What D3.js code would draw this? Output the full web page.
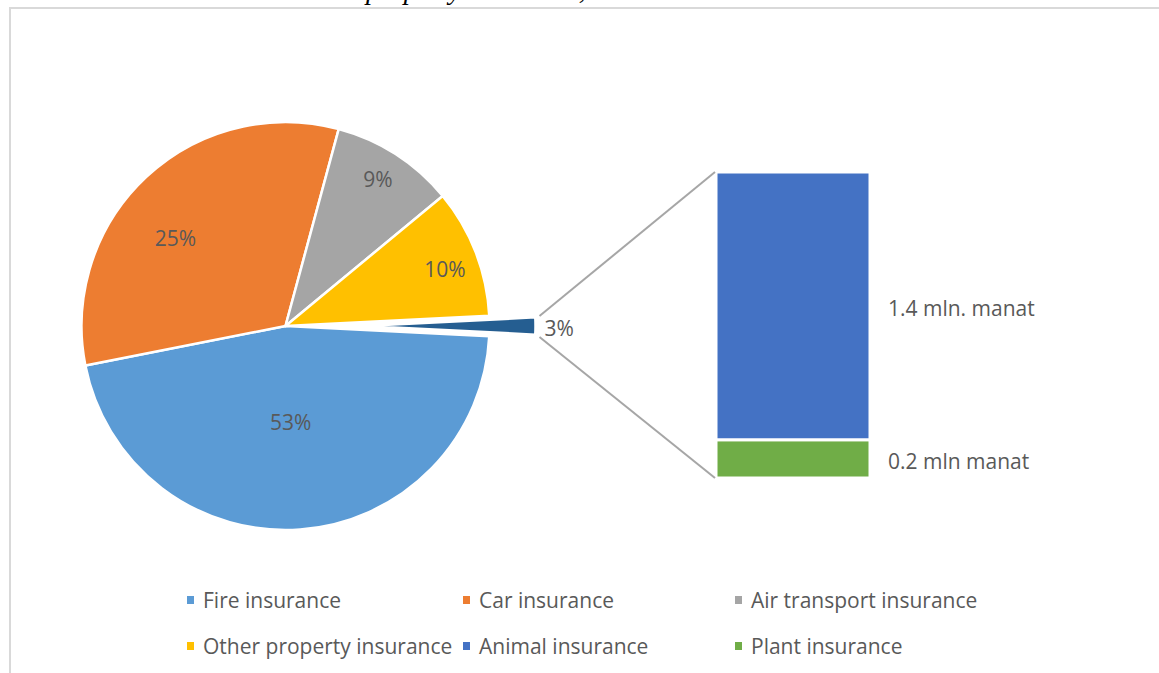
<!DOCTYPE html>
<html>
<head>
<meta charset="utf-8">
<script src="https://cdn.jsdelivr.net/npm/d3@7"></script>
<style>
  body { margin: 0; background: #fff; }
  svg { display: block; }
  text { font-family: "Open Sans", Lato, sans-serif; }
</style>
</head>
<body>
<script>
const w = 1159
const h = 673

// main pie (share of the circle) and the labels shown on it
const pieNames = ["Fire insurance", "Car insurance", "Air transport insurance", "Other property insurance", "Animal + plant"]
const pieValues = [46.1, 32.3, 9.8, 10.2, 1.6]
const pieLabels = ["53%", "25%", "9%", "10%", "3%"]
const pieColors = ["#5B9BD5", "#ED7D31", "#A5A5A5", "#FFC000", "#255E91"]

// secondary bar (mln manat), top to bottom
const barNames = ["Animal insurance", "Plant insurance"]
const barValues = [1.4, 0.2]
const barLabels = ["1.4 mln. manat", "0.2 mln manat"]
const barColors = ["#4472C4", "#70AD47"]

// legend
const legendNames = ["Fire insurance", "Car insurance", "Air transport insurance",
                     "Other property insurance", "Animal insurance", "Plant insurance"]
const legendColors = ["#5B9BD5", "#ED7D31", "#A5A5A5", "#FFC000", "#4472C4", "#70AD47"]

const cx = 285.5, cy = 326, r = 204
const restShift = 78, restR = 172
const labelGray = "#595959"
const fs = "21px"

const svg = d3.create("svg")
    .attr("width", w)
    .attr("height", h)

svg.append("rect").attr("width", w).attr("height", h).attr("fill", "#fff")

// cut-off caption of the document above the chart
svg.append("text")
    .attr("x", 366)
    .attr("y", -1)
    .style("font-family", "'Liberation Serif', serif")
    .style("font-style", "italic")
    .style("font-size", "28px")
    .attr("fill", "#000")
    .text("property insurance,")

// frame
svg.append("path")
    .attr("d", `M10,${h} V8 H${w}`)
    .attr("fill", "none")
    .attr("stroke", "#D9D9D9")
    .attr("stroke-width", 2)

// pie: the combined slice is centred on 3 o'clock
const total = d3.sum(pieValues)
const restAngle = pieValues[4] / total * 2 * Math.PI
const start = Math.PI / 2 + restAngle / 2
const pie = d3.pie().sort(null).startAngle(start).endAngle(start + 2 * Math.PI)
const arcs = pie(pieValues)

const arc = d3.arc().innerRadius(0).outerRadius(r)
const restArc = d3.arc().innerRadius(0).outerRadius(restR)

const g = svg.append("g").attr("transform", `translate(${cx},${cy})`)

g.selectAll("path.slice")
  .data(arcs)
  .enter()
  .append("path")
    .attr("class", "slice")
    .attr("d", (d, i) => i == 4 ? restArc(d) : arc(d))
    .attr("transform", (d, i) => i == 4 ? `translate(${restShift},0)` : null)
    .attr("fill", (d, i) => pieColors[i])
    .attr("stroke", "#fff")
    .attr("stroke-width", 2.5)
    .attr("stroke-linejoin", "round")

// label placement (radius factor, angle nudge in degrees), like Excel's best fit
const labelPlace = [[0.47, 1], [0.69, -8.5], [0.85, -0.5], [0.83, 1.5]]
const labelPos = (d, i) => {
    const a = (d.startAngle + d.endAngle) / 2 + labelPlace[i][1] * Math.PI / 180
    return [Math.sin(a) * r * labelPlace[i][0], -Math.cos(a) * r * labelPlace[i][0]]
}
g.selectAll("text.pct")
  .data(arcs.slice(0, 4))
  .enter()
  .append("text")
    .attr("class", "pct")
    .attr("x", (d, i) => labelPos(d, i)[0])
    .attr("y", (d, i) => labelPos(d, i)[1])
    .attr("text-anchor", "middle")
    .attr("dominant-baseline", "central")
    .attr("fill", labelGray)
    .style("font-size", fs)
    .text((d, i) => pieLabels[i])

g.append("text")
    .attr("x", restShift + restR + 9)
    .attr("y", 2)
    .attr("dominant-baseline", "central")
    .attr("fill", labelGray)
    .style("font-size", fs)
    .text(pieLabels[4])

// stacked bar of the combined slice, first value on top
const y = d3.scaleLinear()
    .domain([0, d3.sum(barValues)])
    .range([478, 172])
const bx = 716, bw = 154

let acc = 0
const stack = barValues.map((v, i) => ({ v: v, i: i })).reverse().map(s => {
    s.y0 = acc
    s.y1 = acc + s.v
    acc += s.v
    return s
})

svg.selectAll("rect.bar")
  .data(stack)
  .enter()
  .append("rect")
    .attr("class", "bar")
    .attr("x", bx)
    .attr("width", bw)
    .attr("y", d => y(d.y1))
    .attr("height", d => y(d.y0) - y(d.y1))
    .attr("fill", d => barColors[d.i])
    .attr("stroke", "#fff")
    .attr("stroke-width", 3)

svg.selectAll("text.barlab")
  .data(stack)
  .enter()
  .append("text")
    .attr("class", "barlab")
    .attr("x", bx + bw + 18)
    .attr("y", d => (y(d.y0) + y(d.y1)) / 2 + 2)
    .attr("dominant-baseline", "central")
    .attr("fill", labelGray)
    .style("font-size", fs)
    .text(d => barLabels[d.i])

// connector lines
const lx = cx + restShift + restR + 4
svg.append("line")
    .attr("x1", lx).attr("y1", cy - 10)
    .attr("x2", bx - 1).attr("y2", y(d3.sum(barValues)))
    .attr("stroke", "#A6A6A6").attr("stroke-width", 2)
svg.append("line")
    .attr("x1", lx).attr("y1", cy + 11)
    .attr("x2", bx - 1).attr("y2", y(0))
    .attr("stroke", "#A6A6A6").attr("stroke-width", 2)

// legend
const colX = [187, 463, 735]
const rowY = [600, 646]
const leg = svg.selectAll("g.leg")
  .data(legendNames)
  .enter()
  .append("g")
    .attr("class", "leg")
    .attr("transform", (d, i) => `translate(${colX[i % 3]},${rowY[Math.floor(i / 3)]})`)

leg.append("rect")
    .attr("x", 0).attr("y", -4)
    .attr("width", 7).attr("height", 8)
    .attr("fill", (d, i) => legendColors[i])

leg.append("text")
    .attr("x", 16)
    .attr("y", 0)
    .attr("dominant-baseline", "central")
    .attr("fill", labelGray)
    .style("font-size", fs)
    .text(d => d)

d3.select("body").append(() => svg.node())
</script>
</body>
</html>
